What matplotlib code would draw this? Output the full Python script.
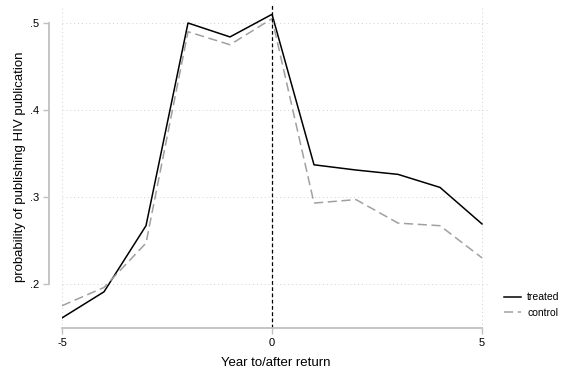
import matplotlib
matplotlib.use('Agg')
import matplotlib.pyplot as plt

plt.rcParams['font.family'] = ['Liberation Sans', 'DejaVu Sans']
plt.rcParams['axes.unicode_minus'] = False

years = [-5, -4, -3, -2, -1, 0, 1, 2, 3, 4, 5]
treated = [.161, .191, .267, .500, .484, .510, .337, .331, .326, .311, .269]
control = [.175, .196, .247, .490, .475, .505, .293, .297, .270, .267, .230]
yticks = [.2, .3, .4, .5]
ytick_labels = ['.2', '.3', '.4', '.5']
xticks = [-5, 0, 5]

fig = plt.figure(figsize=(5.68, 3.73), dpi=100)
ax = fig.add_axes([62 / 568, 45 / 373, 428 / 568, 323 / 373])

ax.plot(years, treated, color='black', lw=1.1, label='treated')
ax.plot(years, control, color='#a0a0a0', lw=1.1, dashes=(6, 3), label='control')
ax.axvline(0, color='black', lw=0.9, ls=(0, (3, 2)))

ax.set_xlim(-5, 5.19)
ax.set_ylim(.1494, .5207)

ax.set_xticks(xticks)
ax.set_yticks(yticks)
ax.set_yticklabels(ytick_labels)
ax.grid(True, color='#d0d0d0', ls=(0, (1, 3)), lw=0.7)

grey = '#c0c0c0'
for s in ['top', 'right']:
    ax.spines[s].set_visible(False)
ax.spines['left'].set_position(('outward', 9))
ax.spines['left'].set_bounds(.2, .5)
ax.spines['bottom'].set_bounds(-5, 5)
for s in ['left', 'bottom']:
    ax.spines[s].set_color(grey)
    ax.spines[s].set_linewidth(1.3)
ax.tick_params(colors=grey, labelcolor='black', labelsize=8, length=4, width=1)

ax.set_xlabel('Year to/after return', fontsize=9.5, labelpad=6)
ax.set_ylabel('probability of publishing HIV publication', fontsize=9.5, labelpad=3)

ax.legend(loc='center left', bbox_to_anchor=(495 / 568, 68 / 373),
          bbox_transform=fig.transFigure, frameon=False, fontsize=7.5,
          handlelength=1.6, handletextpad=0.6, labelspacing=0.5)

fig.savefig('out.png', dpi=100)
